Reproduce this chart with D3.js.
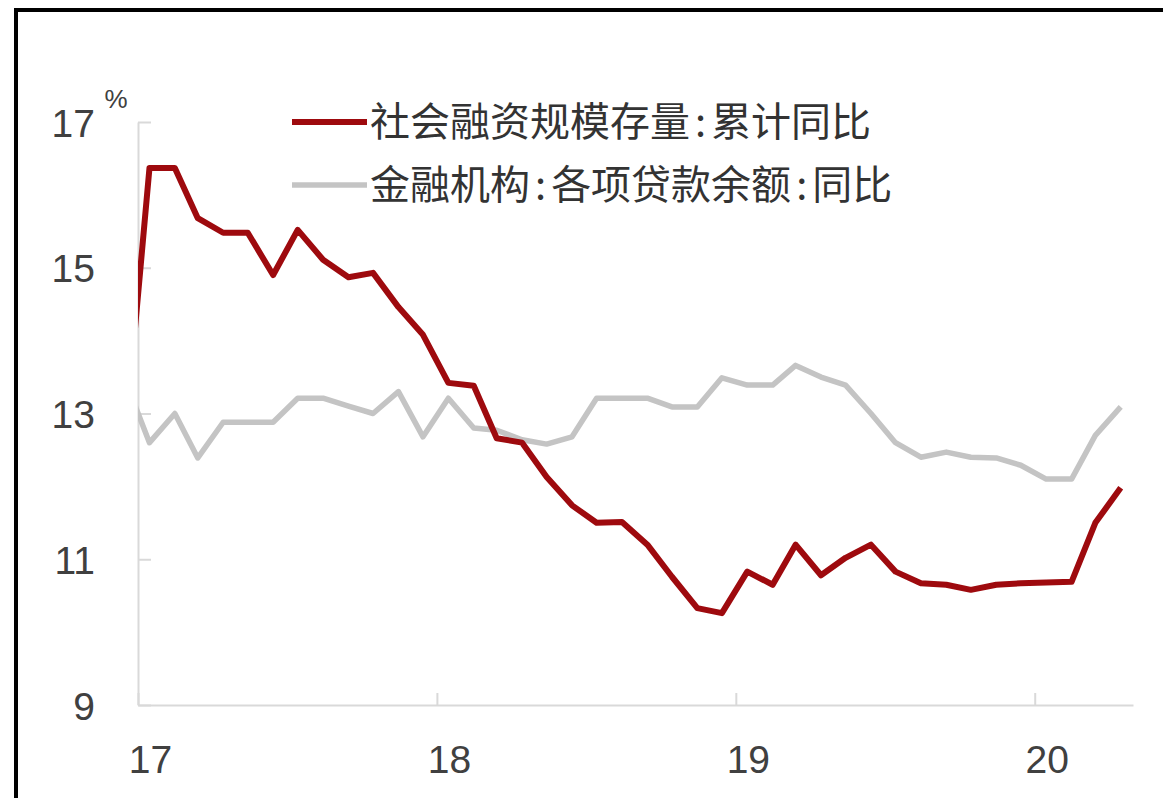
<!DOCTYPE html>
<html><head><meta charset="utf-8">
<script src="https://cdn.jsdelivr.net/npm/d3@7"></script>
<style>
html,body{margin:0;padding:0;background:#fff;}
svg{display:block;}
</style></head>
<body>
<svg id="chart" width="1163" height="798"></svg>
<script>
// Monthly observations, Dec 2016 .. Apr 2020 (plotted mid-month)
const startMonth = [2016, 11]; // year, zero-based month of first observation
const tsfGrowth = [12.5, 16.37, 16.37, 15.68, 15.48, 15.48, 14.90, 15.52, 15.11, 14.87, 14.93, 14.46, 14.08,
  13.42, 13.38, 12.66, 12.60, 12.13, 11.74, 11.50, 11.51, 11.20, 10.76, 10.33, 10.26,
  10.83, 10.65, 11.20, 10.78, 11.02, 11.20, 10.83, 10.67, 10.65, 10.58, 10.65, 10.67,
  10.68, 10.69, 11.50, 11.98];
const loanGrowth = [13.5, 12.6, 13.0, 12.39, 12.88, 12.88, 12.88, 13.21, 13.21, 13.1, 13.0, 13.3, 12.68,
  13.21, 12.8, 12.77, 12.64, 12.58, 12.68, 13.21, 13.21, 13.21, 13.09, 13.09, 13.49,
  13.39, 13.39, 13.66, 13.5, 13.39, 13.0, 12.6, 12.4, 12.47, 12.4, 12.39, 12.29,
  12.1, 12.1, 12.7, 13.09];
const seriesNames = ["社会融资规模存量:累计同比", "金融机构:各项贷款余额:同比"];
const yTicks = [9, 11, 13, 15, 17];
const xTickYears = [2017, 2018, 2019, 2020];
const unitLabel = "%";

const svg = d3.select("#chart");
const W = 1163, H = 798;
const plot = {left: 138, right: 1133, top: 122, bottom: 705};
const numFont = "'Liberation Sans', Arial, sans-serif";
const cjkFont = "'Noto Sans CJK SC', sans-serif";
const textColor = "#404040";
const axisColor = "#d9d9d9";
const redColor = "#9e0a0e";
const greyColor = "#c4c4c4";

const dates = tsfGrowth.map((_, i) => new Date(startMonth[0], startMonth[1] + i, 15));

const x = d3.scaleTime()
  .domain([new Date(2017, 0, 1), new Date(2020, 3, 30)])
  .range([plot.left, plot.right]);
const y = d3.scaleLinear().domain([9, 17]).range([plot.bottom, plot.top]);

// frame
svg.append("line").attr("x1", 14).attr("x2", W).attr("y1", 10).attr("y2", 10)
  .attr("stroke", "#000").attr("stroke-width", 4);
svg.append("line").attr("x1", 16).attr("x2", 16).attr("y1", 8).attr("y2", H)
  .attr("stroke", "#000").attr("stroke-width", 4);

// clip
svg.append("defs").append("clipPath").attr("id", "clip")
  .append("rect").attr("x", plot.left).attr("y", 0)
  .attr("width", plot.right - plot.left).attr("height", H);

// y axis
const yAxis = svg.append("g").attr("transform", `translate(${plot.left},0)`)
  .call(d3.axisLeft(y).tickValues(yTicks).tickFormat(d3.format("d"))
    .tickSizeInner(-13).tickSizeOuter(0).tickPadding(43));
yAxis.select(".domain").attr("stroke", axisColor).attr("stroke-width", 2);
yAxis.selectAll(".tick line").attr("stroke", axisColor).attr("stroke-width", 2);
yAxis.selectAll(".tick text").attr("fill", textColor)
  .style("font-family", numFont).style("font-size", "39px").attr("dy", "0.36em");

// x axis
const xAxis = svg.append("g").attr("transform", `translate(0,${plot.bottom})`)
  .call(d3.axisBottom(x).tickValues(xTickYears.map(yr => new Date(yr, 0, 1)))
    .tickFormat(d3.timeFormat("%y")).tickSizeInner(-12).tickSizeOuter(0).tickPadding(0));
xAxis.select(".domain").attr("stroke", axisColor).attr("stroke-width", 2);
xAxis.selectAll(".tick line").attr("stroke", axisColor).attr("stroke-width", 2);
xAxis.selectAll(".tick text").attr("fill", textColor)
  .style("font-family", numFont).style("font-size", "39px")
  .attr("x", 12).attr("y", 68).attr("dy", 0);

// unit
svg.append("text").attr("x", 116).attr("y", 108).attr("text-anchor", "middle")
  .attr("fill", textColor).style("font-family", numFont).style("font-size", "26px")
  .text(unitLabel);

// lines
const line = d3.line().x((d, i) => x(dates[i])).y(d => y(d)).curve(d3.curveLinear);
const g = svg.append("g").attr("clip-path", "url(#clip)");
g.append("path").datum(loanGrowth).attr("d", line).attr("fill", "none")
  .attr("stroke", greyColor).attr("stroke-width", 5.5).attr("stroke-linejoin", "round");
g.append("path").datum(tsfGrowth).attr("d", line).attr("fill", "none")
  .attr("stroke", redColor).attr("stroke-width", 6).attr("stroke-linejoin", "round");

// legend
const legend = [
  {name: seriesNames[0], color: redColor, w: 6, y: 122},
  {name: seriesNames[1], color: greyColor, w: 5.5, y: 185}
];
legend.forEach(l => {
  svg.append("line").attr("x1", 292).attr("x2", 367).attr("y1", l.y).attr("y2", l.y)
    .attr("stroke", l.color).attr("stroke-width", l.w);
  const t = svg.append("text").attr("x", 370).attr("y", l.y + 14).attr("fill", "#333")
    .style("font-family", cjkFont).style("font-size", "40px");
  const parts = l.name.split(":");
  parts.forEach((p, i) => {
    if (i > 0) t.append("tspan").attr("dx", 5).text(":");
    t.append("tspan").attr("dx", i > 0 ? 5 : 0).text(p);
  });
});
</script>
</body></html>
